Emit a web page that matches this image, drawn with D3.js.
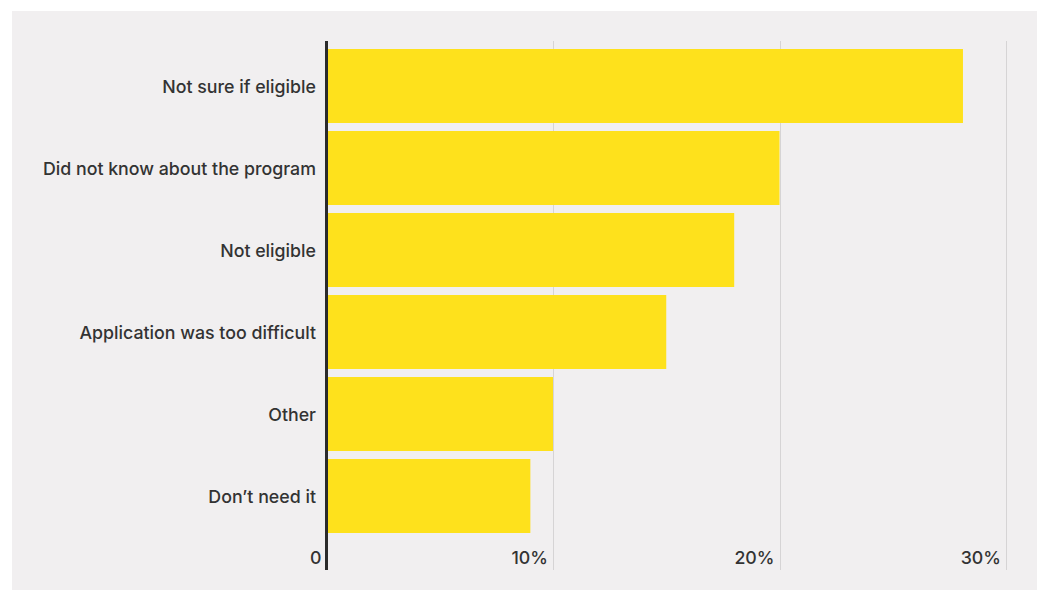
<!DOCTYPE html>
<html>
<head>
<meta charset="utf-8">
<script src="https://cdn.jsdelivr.net/npm/d3@7"></script>
<style>
  body { margin: 0; background: #ffffff; }
  text { font-family: Inter, "Noto Sans", sans-serif; }
</style>
</head>
<body>
<div id="chart"></div>
<script>
var width = 1040;
var height = 591;

// data (percent)
var categories = ['Not sure if eligible', 'Did not know about the program', 'Not eligible',
                  'Application was too difficult', 'Other', "Don\u2019t need it"];
var values = [28.1, 20, 18, 15, 10, 9];
var tickValues = [0, 10, 20, 30];

var svg = d3.select("#chart")
    .append("svg")
    .attr("width", width)
    .attr("height", height);

// panel background
svg.append("rect")
    .attr("x", 12)
    .attr("y", 11)
    .attr("width", 1025)
    .attr("height", 579)
    .attr("fill", "#f1eff0");

var xScale = d3.scaleLinear()
    .domain([0, 30])
    .range([326.5, 1006]);

var yScale = d3.scaleBand()
    .domain(categories)
    .range([41, 541])
    .paddingInner(0.0976)
    .paddingOuter(0.0976);

var plotTop = 41, plotBottom = 570;

// gridlines
svg.append("g")
    .selectAll("line")
    .data(tickValues.filter(d => d > 0))
    .enter()
    .append("line")
    .attr("x1", d => Math.round(xScale(d)) + 0.5)
    .attr("x2", d => Math.round(xScale(d)) + 0.5)
    .attr("y1", plotTop)
    .attr("y2", plotBottom)
    .attr("stroke", "#d6d4d5")
    .attr("stroke-width", 1);

// bars
svg.append("g")
    .selectAll("rect")
    .data(values)
    .enter()
    .append("rect")
    .attr("x", xScale(0))
    .attr("y", (d, i) => yScale(categories[i]))
    .attr("width", d => xScale(d) - xScale(0))
    .attr("height", yScale.bandwidth())
    .attr("fill", "#fee11c");

// category labels
svg.append("g")
    .selectAll("text")
    .data(categories)
    .enter()
    .append("text")
    .attr("x", 316)
    .attr("y", d => yScale(d) + yScale.bandwidth() / 2 + 1)
    .attr("dy", "0.35em")
    .attr("text-anchor", "end")
    .attr("font-size", 17.8)
    .attr("font-weight", 500)
    .attr("fill", "#333333")
    .text(d => d);

// x tick labels
svg.append("g")
    .selectAll("text")
    .data(tickValues)
    .enter()
    .append("text")
    .attr("x", d => xScale(d) - 5)
    .attr("y", 558)
    .attr("dy", "0.35em")
    .attr("text-anchor", "end")
    .attr("font-size", 17.8)
    .attr("font-weight", 500)
    .attr("fill", "#333333")
    .text(d => d === 0 ? "0" : d + "%");

// axis line
svg.append("line")
    .attr("x1", 326.5)
    .attr("x2", 326.5)
    .attr("y1", plotTop)
    .attr("y2", plotBottom)
    .attr("stroke", "#2b2b2b")
    .attr("stroke-width", 3);
</script>
</body>
</html>
